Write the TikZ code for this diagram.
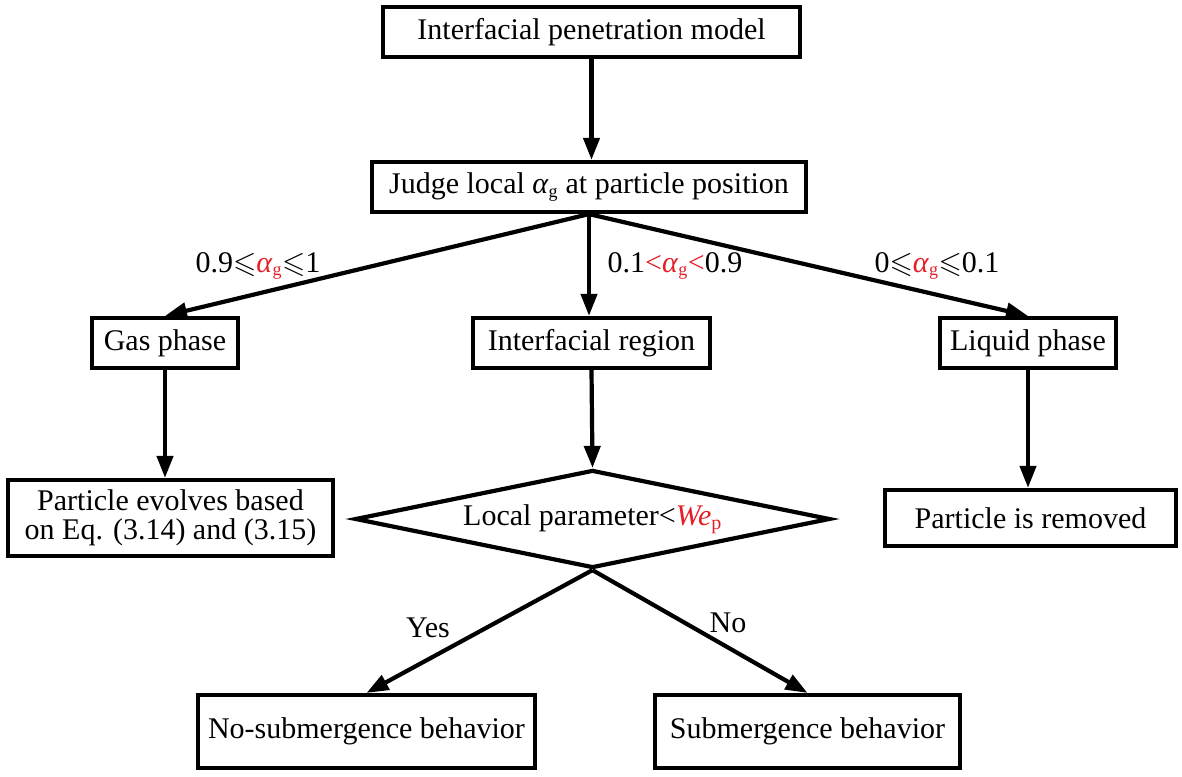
\documentclass[tikz,border=0pt]{standalone}
\usepackage{amssymb}
\usepackage{fontspec}
\setmainfont{Liberation Serif}
\newfontfamily\timesfont{Liberation Serif}
\usetikzlibrary{arrows.meta,shapes.geometric}
\definecolor{lblred}{RGB}{230,30,40}
\newcommand{\alg}{\textit{α}\textsubscript{\fontsize{18}{18}\selectfont g}}
\begin{document}
\begin{tikzpicture}[x=1pt,y=-1pt,
  font=\timesfont\fontsize{30}{35}\selectfont,
  box/.style={draw,line width=4.2pt,inner sep=0pt,align=center},
  conn/.style={line width=4.2pt,-{Triangle[width=16pt,length=22pt]}},
  lbl/.style={font=\timesfont\fontsize{30}{35}\selectfont,inner sep=0pt}]
\useasboundingbox (0,0) rectangle (1182,776);
\node[box,minimum width=417pt,minimum height=50pt] (top) at (591.5,32) {Interfacial penetration model};
\node[box,minimum width=434pt,minimum height=50pt] (judge) at (589,187) {Judge local \alg{} at particle position};
\node[box,minimum width=146pt,minimum height=50pt] (gas) at (165,343) {Gas phase};
\node[box,minimum width=237pt,minimum height=50pt] (inter) at (591.5,343) {Interfacial region};
\node[box,minimum width=176pt,minimum height=50pt] (liq) at (1028,343) {Liquid phase};
\node[box,minimum width=325pt,minimum height=76pt] (evolve) at (170.5,518) {Particle evolves based\\[-6pt]on Eq. (3.14) and (3.15)};
\node[draw,line width=4.2pt,diamond,aspect=4.85,inner sep=0pt,minimum width=475pt,minimum height=98pt] (dia) at (592.5,519) {Local parameter<\textcolor{lblred}{\textit{We}\textsubscript{\fontsize{20}{20}\selectfont p}}};
\node[box,minimum width=291pt,minimum height=56pt] (rem) at (1030.5,518) {Particle is removed};
\node[box,minimum width=337pt,minimum height=73pt] (nosub) at (366.5,731.5) {No-submergence behavior};
\node[box,minimum width=305pt,minimum height=73pt] (sub) at (807.5,731.5) {Submergence behavior};

\draw[conn] (top.south) -- (top.south |- judge.north);
\draw[conn] (judge.south) -- (gas.north);
\draw[conn] (judge.south) -- (judge.south |- inter.north);
\draw[conn] (judge.south) -- (liq.north);
\draw[conn] (gas.south) -- (gas.south |- evolve.north);
\draw[conn] (inter.south) -- (dia.north);
\draw[conn] (liq.south) -- (liq.south |- rem.north);
\draw[conn] (dia.south) -- (nosub.north);
\draw[conn] (dia.south) -- (sub.north);

\node[lbl] (l1) at (258,266) {0.9$\leqslant$\textcolor{lblred}{\alg}$\leqslant$1};
\node[lbl] (l2) at (675,266) {0.1\textcolor{lblred}{<\alg<}0.9};
\node[lbl] (l3) at (937,266) {0$\leqslant$\textcolor{lblred}{\alg}$\leqslant$0.1};
\node[lbl] (yes) at (428,628) {Yes};
\node[lbl] (no) at (728,623) {No};
\end{tikzpicture}
\end{document}
